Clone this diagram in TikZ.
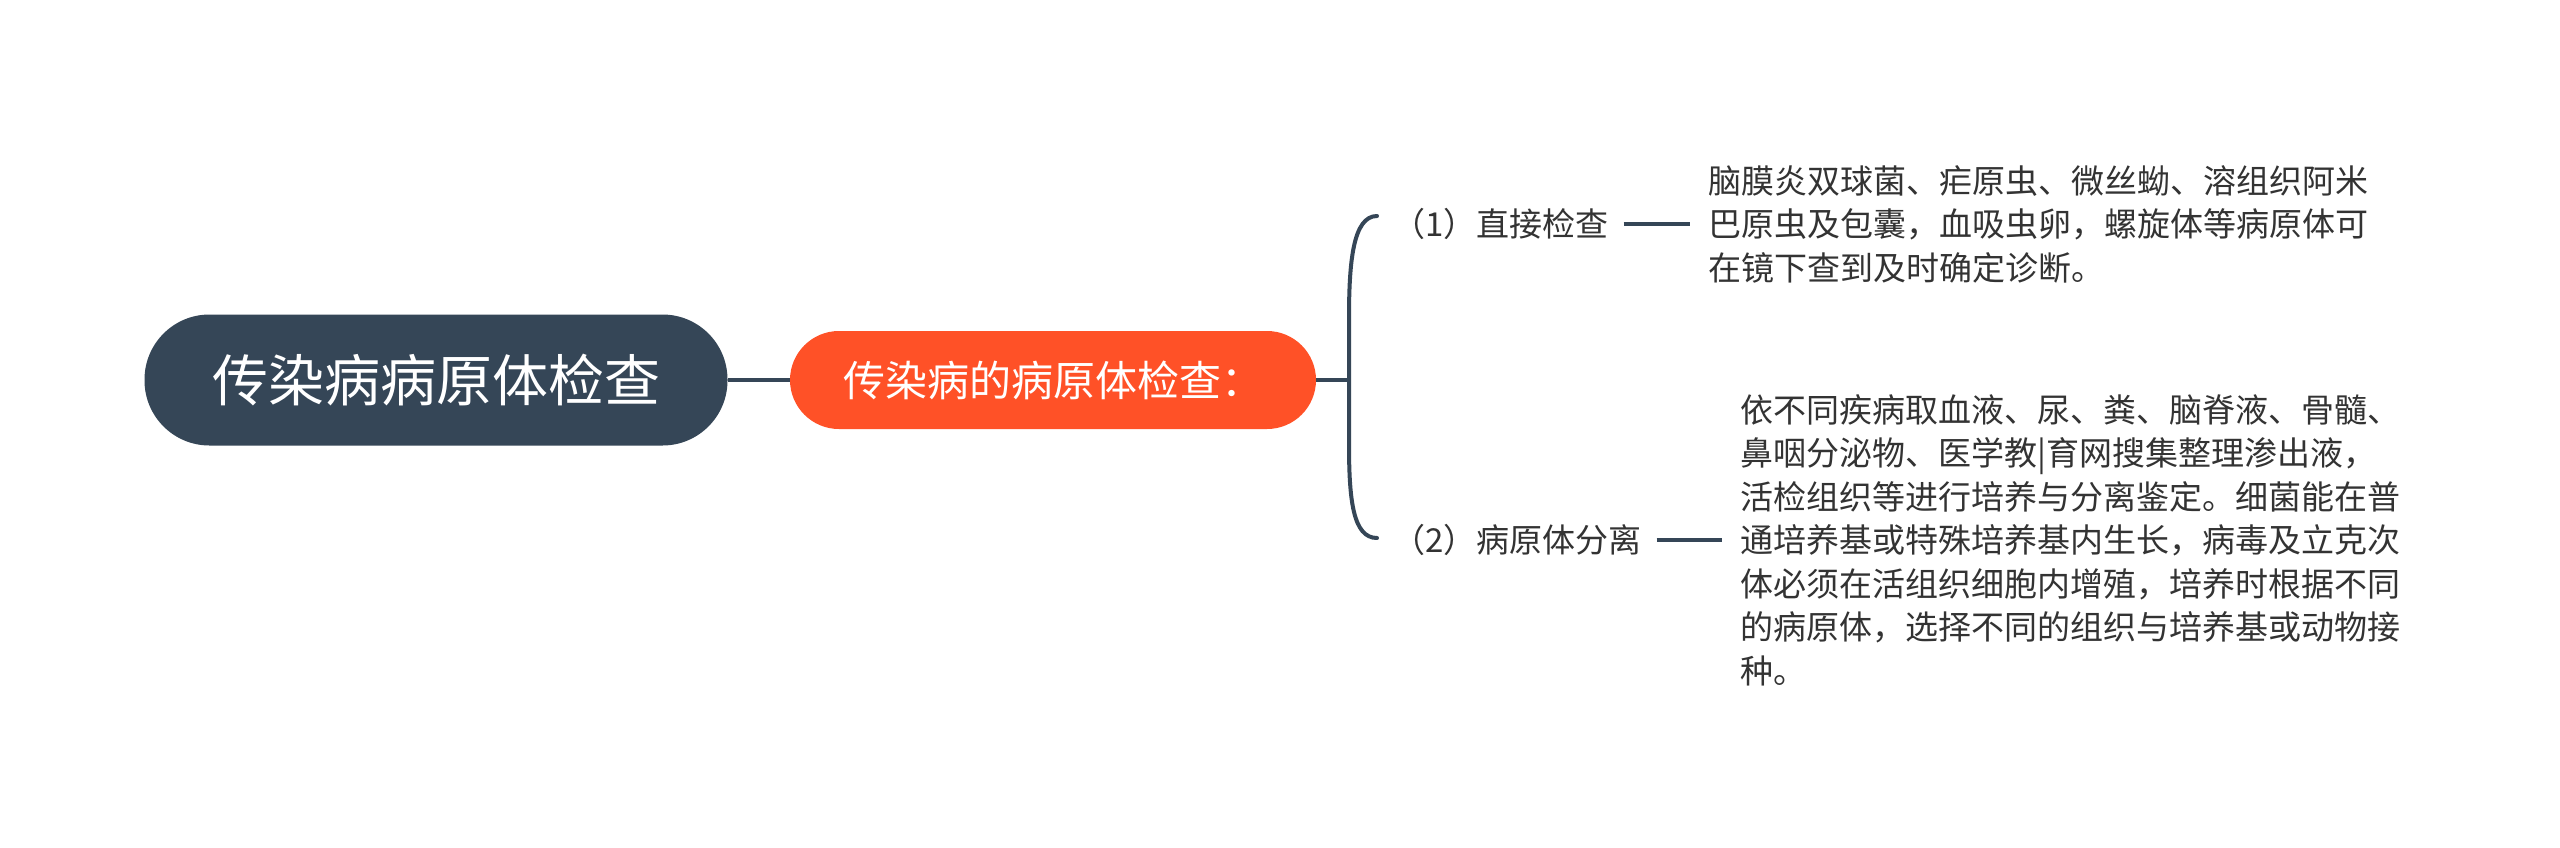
\documentclass[tikz,border=0pt]{standalone}
\usepackage{fontspec}
\setmainfont{Noto Sans CJK SC}
\definecolor{slate}{HTML}{354657}
\definecolor{orangered}{HTML}{FF5127}
\definecolor{txt}{HTML}{333333}
\tikzset{
  rootbox/.style={fill=slate, text=white, rounded corners=65pt, minimum width=583pt, minimum height=131pt, inner sep=0pt, font=\fontsize{56}{60}\selectfont},
  mainbox/.style={fill=orangered, text=white, rounded corners=49pt, minimum width=526pt, minimum height=98pt, inner sep=0pt, font=\fontsize{42}{46}\selectfont},
  childbox/.style={text=txt, inner xsep=15pt, inner ysep=0pt, anchor=west, font=\fontsize{33}{44}\selectfont},
  descbox/.style={text=txt, inner xsep=18pt, inner ysep=0pt, anchor=west, align=left, font=\fontsize{33}{43.5}\selectfont},
  link/.style={draw=slate, line width=4pt},
}
\begin{document}
\begin{tikzpicture}[x=1pt,y=-1pt]
\useasboundingbox[fill=white] (0,0) rectangle (2560,847);
\node[rootbox] (root) at (436,380) {传染病病原体检查};
\node[mainbox] (main) at (1053,380) {传染病的病原体检查：};
\coordinate (bj) at (1349,380);
\node[childbox] (c1) at (1377,224) {（1）直接检查};
\node[childbox] (c2) at (1377,540) {（2）病原体分离};
\node[descbox] (d1) at (1690,224) {脑膜炎双球菌、疟原虫、微丝蚴、溶组织阿米\\巴原虫及包囊，血吸虫卵，螺旋体等病原体可\\在镜下查到及时确定诊断。};
\node[descbox] (d2) at (1722,540) {依不同疾病取血液、尿、粪、脑脊液、骨髓、\\鼻咽分泌物、医学教|育网搜集整理渗出液，\\活检组织等进行培养与分离鉴定。细菌能在普\\通培养基或特殊培养基内生长，病毒及立克次\\体必须在活组织细胞内增殖，培养时根据不同\\的病原体，选择不同的组织与培养基或动物接\\种。};
\draw[link] (root.east) -- (main.west);
\draw[link] (main.east) -- (bj);
\draw[link, line cap=round] ([yshift=8pt]c1.west) .. controls (1353,216) and (1349,262) .. (1349,318) -- (1349,444) .. controls (1349,500) and (1353,538) .. ([yshift=2pt]c2.west);
\draw[link] (c1.east) -- (d1.west);
\draw[link] (c2.east) -- (d2.west);
\end{tikzpicture}
\end{document}
